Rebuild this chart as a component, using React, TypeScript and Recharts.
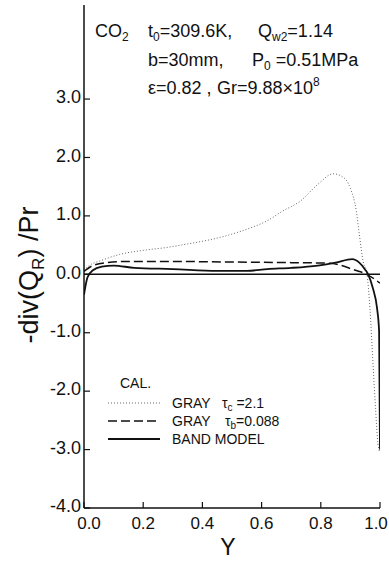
import React from 'react';
import { LineChart, Line, XAxis, YAxis, ReferenceLine } from 'recharts';

// GRAY tau_c = 2.1 (dotted)
const grayCY = [0, 0.015, 0.06, 0.12, 0.2, 0.28, 0.35, 0.45, 0.52, 0.56, 0.62, 0.67, 0.73, 0.79, 0.842, 0.87, 0.9, 0.92, 0.93, 0.943, 0.956, 0.966, 0.976, 0.985, 0.993, 1.0];
const grayCV = [0.07, 0.14, 0.24, 0.34, 0.41, 0.46, 0.52, 0.62, 0.72, 0.79, 0.92, 1.08, 1.25, 1.54, 1.72, 1.68, 1.47, 1.08, 0.69, 0.22, 0, -0.58, -1.5, -2.3, -2.9, -3.05];

// GRAY tau_b = 0.088 (dashed)
const grayBY = [0, 0.03, 0.08, 0.15, 0.3, 0.5, 0.7, 0.83, 0.87, 0.91, 0.955, 1.0];
const grayBV = [0.05, 0.15, 0.2, 0.22, 0.22, 0.21, 0.2, 0.19, 0.15, 0.08, 0, -0.15];

// BAND MODEL (solid)
const bandY = [0, 0.005, 0.012, 0.03, 0.06, 0.1, 0.17, 0.3, 0.45, 0.55, 0.62, 0.7, 0.79, 0.85, 0.906, 0.93, 0.95, 0.96, 0.976, 0.99, 0.997, 1.0];
const bandV = [-0.35, -0.2, -0.05, 0.07, 0.13, 0.15, 0.11, 0.09, 0.06, 0.06, 0.09, 0.11, 0.15, 0.2, 0.26, 0.2, 0.08, 0, -0.24, -0.58, -0.98, -3.0];

const xTicks = [0, 0.2, 0.4, 0.6, 0.8, 1.0];
const yTicks = [-4, -3, -2, -1, 0, 1, 2, 3];

const toRows = (xs: number[], vs: number[]) => xs.map((y, i) => ({ y, v: vs[i] }));

const FONT = '"Liberation Sans", Arial, sans-serif';

const LeftTick = (props: any) => {
  const { x, y, payload } = props;
  return (
    <text x={x} y={y - 2} dy="0.35em" textAnchor="end" fontSize={18} fill="#111" fontFamily={FONT}>
      {Number(payload.value).toFixed(1)}
    </text>
  );
};

const BottomTick = (props: any) => {
  const { x, y, payload } = props;
  // first and last labels sit slightly inside, as in the original
  const shift = payload.value === 0 ? 5 : payload.value === 1 ? -4 : 0;
  return (
    <text x={x + shift} y={y} dy="0.71em" textAnchor="middle" fontSize={17} fill="#111" fontFamily={FONT}>
      {Number(payload.value).toFixed(1)}
    </text>
  );
};

export default function App() {
  return (
    <div style={{ position: 'absolute', left: 0, top: 0, width: 389, height: 562, background: '#fff' }}>
      <LineChart width={389} height={562} margin={{ top: 5, right: 9, left: 0, bottom: 0 }}>
        <XAxis
          xAxisId="b"
          dataKey="y"
          type="number"
          domain={[0, 1]}
          ticks={xTicks}
          height={54}
          tickSize={-6}
          tickMargin={15}
          axisLine={{ stroke: '#111', strokeWidth: 1.5 }}
          tickLine={{ stroke: '#111', strokeWidth: 1.2 }}
          tick={<BottomTick />}
          allowDataOverflow
        />
        <XAxis
          xAxisId="t"
          orientation="top"
          dataKey="y"
          type="number"
          domain={[0, 1]}
          height={0}
          tick={false}
          tickLine={false}
          axisLine={{ stroke: '#111', strokeWidth: 1.5 }}
        />
        <YAxis
          yAxisId="l"
          type="number"
          domain={[-4, 4.61]}
          ticks={yTicks}
          width={84}
          tickSize={-6}
          tickMargin={9}
          axisLine={{ stroke: '#111', strokeWidth: 1.5 }}
          tickLine={{ stroke: '#111', strokeWidth: 1.2 }}
          tick={<LeftTick />}
          allowDataOverflow
        />
        <YAxis
          yAxisId="r"
          orientation="right"
          type="number"
          domain={[-4, 4.61]}
          ticks={yTicks}
          width={0}
          tickSize={-6}
          axisLine={{ stroke: '#111', strokeWidth: 1.5 }}
          tickLine={{ stroke: '#111', strokeWidth: 1.2 }}
          tick={() => <g />}
        />
        <ReferenceLine xAxisId="b" yAxisId="l" y={0} stroke="#111" strokeWidth={1.5} />
        <Line
          xAxisId="b"
          yAxisId="l"
          data={toRows(grayCY, grayCV)}
          dataKey="v"
          type="monotone"
          stroke="#666"
          strokeWidth={1}
          strokeDasharray="1 2"
          dot={false}
          isAnimationActive={false}
        />
        <Line
          xAxisId="b"
          yAxisId="l"
          data={toRows(grayBY, grayBV)}
          dataKey="v"
          type="monotone"
          stroke="#111"
          strokeWidth={1.5}
          strokeDasharray="9 4"
          dot={false}
          isAnimationActive={false}
        />
        <Line
          xAxisId="b"
          yAxisId="l"
          data={toRows(bandY, bandV)}
          dataKey="v"
          type="monotone"
          stroke="#111"
          strokeWidth={1.8}
          dot={false}
          isAnimationActive={false}
        />
      </LineChart>
      <svg
        width={389}
        height={562}
        style={{ position: 'absolute', left: 0, top: 0, pointerEvents: 'none' }}
        fontFamily={FONT}
        fill="#111"
      >
        <g fontSize={18}>
          <text x={95} y={37}>
            CO<tspan fontSize={12} dy={4}>2</tspan>
          </text>
          <text x={148} y={37}>
            t<tspan fontSize={12} dy={4}>0</tspan>
            <tspan dy={-4}>=309.6K,</tspan>
          </text>
          <text x={258} y={37}>
            Q<tspan fontSize={12} dy={4}>w2</tspan>
            <tspan dy={-4}>=1.14</tspan>
          </text>
          <text x={148} y={66}>b=30mm,</text>
          <text x={252} y={66}>
            P<tspan fontSize={12} dy={4}>0</tspan>
            <tspan dy={-4}> =0.51MPa</tspan>
          </text>
          <text x={148} y={94}>ε=0.82 ,</text>
          <text x={217} y={94}>
            Gr=9.88×10<tspan fontSize={12} dy={-8}>8</tspan>
          </text>
        </g>
        <text
          transform="translate(38,275) rotate(-90)"
          textAnchor="middle"
          fontSize={27}
        >
          -div(Q<tspan fontSize={17} dy={6}>R</tspan>
          <tspan dy={-6}>) /Pr</tspan>
        </text>
        <text x={228} y={555} textAnchor="middle" fontSize={23}>
          Y
        </text>
        <g fontSize={14}>
          <text x={120} y={388}>CAL.</text>
          <line x1={108} y1={403} x2={160} y2={403} stroke="#666" strokeWidth={1} strokeDasharray="1 2" />
          <text x={172} y={408}>GRAY</text>
          <text x={222} y={408}>
            τ<tspan fontSize={10} dy={3}>c</tspan>
            <tspan dy={-3}> =2.1</tspan>
          </text>
          <line x1={108} y1={421} x2={160} y2={421} stroke="#111" strokeWidth={1.5} strokeDasharray="9 4" />
          <text x={172} y={426}>GRAY</text>
          <text x={225} y={426}>
            τ<tspan fontSize={10} dy={3}>b</tspan>
            <tspan dy={-3}>=0.088</tspan>
          </text>
          <line x1={108} y1={439} x2={160} y2={439} stroke="#111" strokeWidth={1.8} />
          <text x={172} y={444}>BAND MODEL</text>
        </g>
      </svg>
    </div>
  );
}
